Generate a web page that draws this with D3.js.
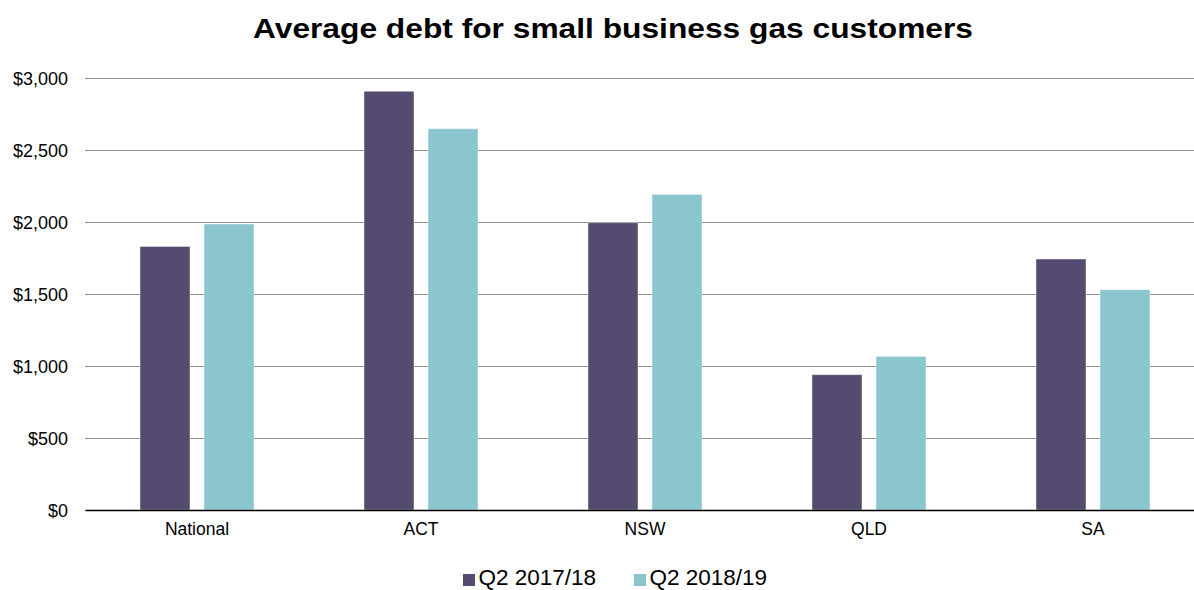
<!DOCTYPE html>
<html>
<head>
<meta charset="utf-8">
<script src="https://cdn.jsdelivr.net/npm/d3@7"></script>
<style>
  html, body { margin: 0; padding: 0; background: #fff; }
  svg { display: block; font-family: "Liberation Sans", Arial, sans-serif; }
</style>
</head>
<body>
<svg id="chart" width="1194" height="590"></svg>
<script>
// Average debt per small business gas customer, by jurisdiction
const categories = ["National", "ACT", "NSW", "QLD", "SA"];
const seriesNames = ["Q2 2017/18", "Q2 2018/19"];
const q2_2017_18 = [1830, 2908, 1995, 940, 1743];
const q2_2018_19 = [1986, 2648, 2192, 1067, 1530];
const yTicks = [0, 500, 1000, 1500, 2000, 2500, 3000];
const colors = ["#554a70", "#8bc6cf"];

const seriesValues = [q2_2017_18, q2_2018_19];
const svg = d3.select("#chart");

const plotLeft = 85;
const plotRight = 1205;
const plotTop = 78;
const plotBottom = 510;

const x = d3.scaleBand().domain(categories).range([plotLeft, plotRight]);
// two 50px bars with a 14px gap, centred in each category band
const x1 = d3.scaleBand().domain(seriesNames).range([55, x.bandwidth() - 55]).paddingInner(14 / 64);
const y = d3.scaleLinear().domain([0, 3000]).range([plotBottom, plotTop]);

// title
svg.append("text")
  .attr("x", 613).attr("y", 37.5)
  .attr("text-anchor", "middle")
  .attr("font-size", 28).attr("font-weight", "bold")
  .attr("textLength", 720).attr("lengthAdjust", "spacingAndGlyphs")
  .attr("fill", "#000")
  .text("Average debt for small business gas customers");

// gridlines and value labels
const yAxis = d3.axisLeft(y).tickValues(yTicks)
  .tickSize(-(plotRight - plotLeft))
  .tickFormat(d => "$" + d3.format(",")(d));
const gy = svg.append("g").attr("transform", `translate(${plotLeft},0)`).call(yAxis);
gy.select(".domain").remove();
gy.selectAll(".tick line").attr("stroke", "#8c8c8c").attr("stroke-width", 1.2);
gy.selectAll(".tick text").attr("x", -17).attr("dy", "0.34em").attr("font-size", 18).attr("fill", "#000")
  .attr("font-family", "Liberation Sans, Arial, sans-serif");

// bars
const groups = svg.append("g").selectAll("g")
  .data(categories)
  .join("g")
  .attr("transform", d => `translate(${x(d)},0)`);

groups.selectAll("rect")
  .data((c, i) => seriesNames.map((s, j) => ({ series: s, j, value: seriesValues[j][i] })))
  .join("rect")
  .attr("x", d => x1(d.series))
  .attr("width", x1.bandwidth())
  .attr("y", d => y(d.value))
  .attr("height", d => plotBottom - y(d.value))
  .attr("fill", d => colors[d.j])
  .attr("stroke", "rgba(255,255,255,0.45)")
  .attr("stroke-width", 1);

// category axis
const xAxis = d3.axisBottom(x).tickSize(0).tickPadding(13);
const gx = svg.append("g").attr("transform", `translate(0,${plotBottom})`).call(xAxis);
gx.select(".domain").attr("stroke", "#000").attr("stroke-width", 1.3);
gx.selectAll(".tick text").attr("font-size", 17.5).attr("fill", "#000")
  .attr("font-family", "Liberation Sans, Arial, sans-serif");

// legend
const legendX = [463, 634];
const legend = svg.append("g").selectAll("g")
  .data(seriesNames)
  .join("g")
  .attr("transform", (d, i) => `translate(${legendX[i]},0)`);
legend.append("rect")
  .attr("x", 0).attr("y", 574).attr("width", 12).attr("height", 12)
  .attr("fill", (d, i) => colors[i]);
legend.append("text")
  .attr("x", 15.5).attr("y", 585)
  .attr("font-size", 22.5).attr("fill", "#000")
  .text(d => d);
</script>
</body>
</html>
